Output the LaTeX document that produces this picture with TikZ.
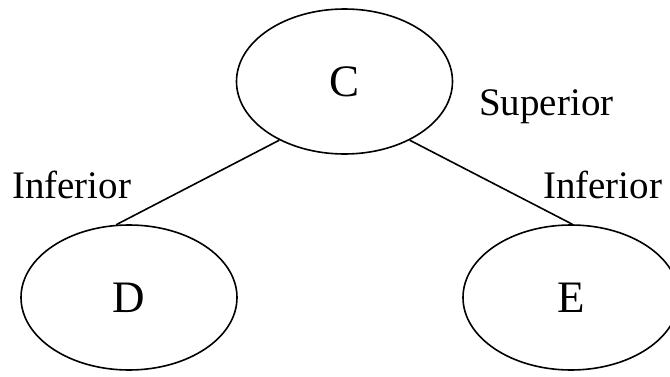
\documentclass[tikz,border=0pt]{standalone}
\usepackage{fontspec}
\setmainfont{Liberation Serif}
\usepackage{tikz}
\usetikzlibrary{shapes, positioning}
\tikzstyle{vertex} = [ellipse, minimum width=216pt, minimum height=145pt, draw=black, line width=1.6pt, font=\fontsize{45}{50}\selectfont]
\tikzstyle{tag} = [anchor=base west, inner sep=0pt, font=\fontsize{39}{44}\selectfont]
\tikzstyle{edge} = [line width=1.6pt]
\begin{document}
\begin{tikzpicture}[x=1pt, y=1pt]

    \useasboundingbox (0, 0) rectangle (670, 376);

    \node (c) [vertex] at (344.5, 294.5) {C};
    \node (d) [vertex] at (129, 78.5) {D};
    \node (e) [vertex] at (571, 78.5) {E};

    \node (supC) [tag] at (479, 261) {Superior};
    \node (infD) [tag] at (12, 178) {Inferior};
    \node (infE) [tag] at (543, 178) {Inferior};

    \draw [edge] (c.222) -- (d.100);
    \draw [edge] (c.318) -- (e.89);

\end{tikzpicture}
\end{document}
